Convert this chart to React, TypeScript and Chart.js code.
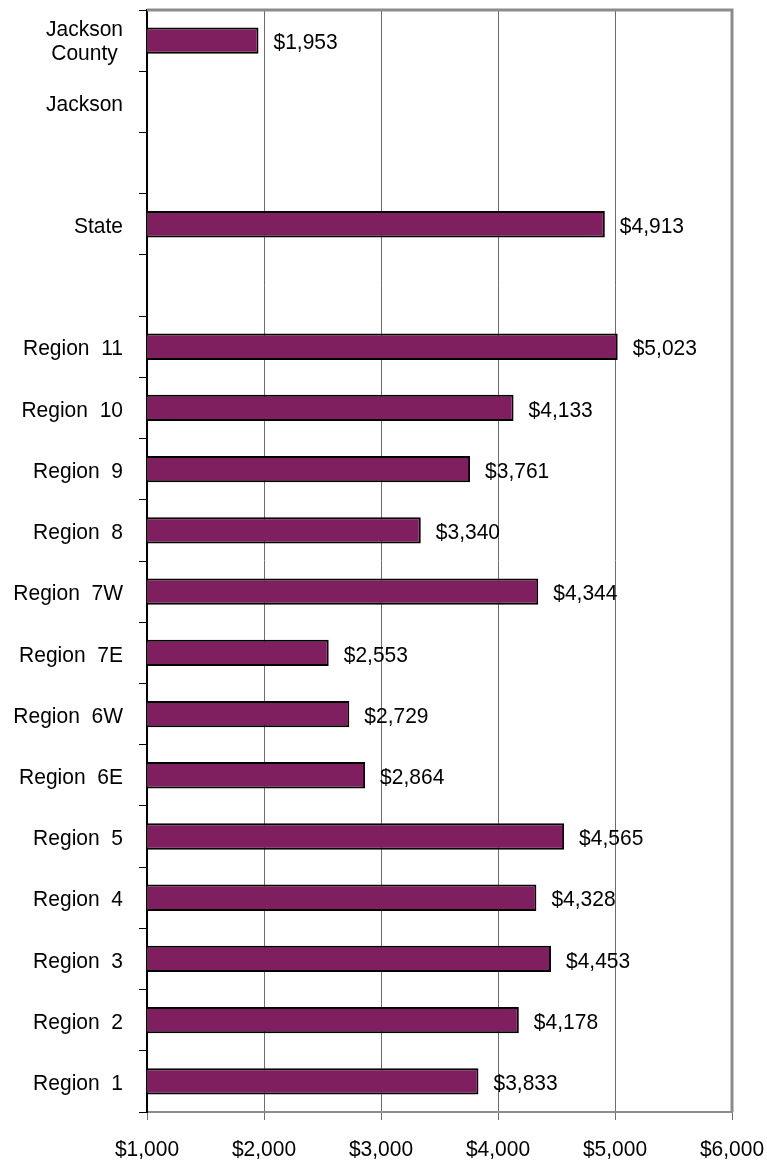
import React, { useEffect, useRef } from "react";
import { Chart, registerables } from "chart.js";

Chart.register(...registerables);

const categories: (string | string[])[] = [
  ["Jackson", "County"],
  "Jackson",
  "",
  "State",
  " ",
  "Region  11",
  "Region  10",
  "Region  9",
  "Region  8",
  "Region  7W",
  "Region  7E",
  "Region  6W",
  "Region  6E",
  "Region  5",
  "Region  4",
  "Region  3",
  "Region  2",
  "Region  1",
];

const values: (number | null)[] = [
  1953, null, null, 4913, null, 5023, 4133, 3761, 3340, 4344, 2553, 2729, 2864, 4565, 4328, 4453, 4178, 3833,
];

const xTicks = [1000, 2000, 3000, 4000, 5000, 6000];

const FONT = "'Liberation Sans', Arial, sans-serif";
const FONT_SIZE = 21;
const STRETCH = 1.08;

const fmt = (v: number) => "$" + v.toLocaleString("en-US");

function drawText(ctx: CanvasRenderingContext2D, text: string, x: number, centerY: number, align: CanvasTextAlign) {
  ctx.save();
  ctx.translate(x, centerY);
  ctx.scale(1, STRETCH);
  ctx.font = `${FONT_SIZE}px ${FONT}`;
  ctx.fillStyle = "#000";
  ctx.textAlign = align;
  ctx.textBaseline = "alphabetic";
  const capH = FONT_SIZE * 0.729;
  ctx.fillText(text, 0, capH / 2);
  ctx.restore();
}

export default function App() {
  const ref = useRef<HTMLCanvasElement | null>(null);

  useEffect(() => {
    if (!ref.current) return;
    const textPlugin = {
      id: "texts",
      afterDatasetsDraw(chart: any) {
        const ctx = chart.ctx as CanvasRenderingContext2D;
        const meta = chart.getDatasetMeta(0);
        const xs = chart.scales.x;
        const ys = chart.scales.y;
        // value labels
        meta.data.forEach((bar: any, i: number) => {
          const v = values[i];
          if (v == null) return;
          drawText(ctx, fmt(v), bar.x + 15, bar.y + 0.5, "left");
        });
        // category labels
        const rightEdge = ys.right - 24;
        categories.forEach((lab, i) => {
          const cy = ys.getPixelForValue(i);
          if (Array.isArray(lab)) {
            ctx.save();
            ctx.font = `${FONT_SIZE}px ${FONT}`;
            const w = Math.max(...lab.map((l) => ctx.measureText(l).width));
            ctx.restore();
            const cx = rightEdge - w / 2;
            const gap = 24.5;
            lab.forEach((l, j) => {
              drawText(ctx, l, cx, cy - 1 + (j - (lab.length - 1) / 2) * gap, "center");
            });
          } else if (lab.trim() !== "") {
            drawText(ctx, lab, rightEdge, cy + 0.5, "right");
          }
        });
        // x tick labels
        xTicks.forEach((t) => {
          drawText(ctx, fmt(t), xs.getPixelForValue(t), 1148, "center");
        });
      },
      afterDraw(chart: any) {
        const { ctx, chartArea } = chart;
        ctx.save();
        ctx.strokeStyle = "#8c8c8c";
        ctx.lineWidth = 3;
        ctx.beginPath();
        ctx.moveTo(chartArea.left, chartArea.top);
        ctx.lineTo(chartArea.right, chartArea.top);
        ctx.lineTo(chartArea.right, chartArea.bottom);
        ctx.stroke();
        ctx.restore();
      },
    };
    const chart = new Chart(ref.current, {
      type: "bar",
      data: {
        labels: categories,
        datasets: [
          {
            data: values,
            backgroundColor: "#7F1F5F",
            borderColor: "#000",
            borderWidth: 2,
            borderSkipped: false,
            categoryPercentage: 1,
            barPercentage: 0.43,
          },
        ],
      },
      options: {
        indexAxis: "y",
        animation: false,
        responsive: false,
        maintainAspectRatio: false,
        layout: { padding: { top: 10, right: 35, left: 0, bottom: 0 } },
        plugins: { legend: { display: false }, tooltip: { enabled: false } },
        scales: {
          x: {
            type: "linear",
            min: 1000,
            max: 6000,
            afterBuildTicks: (axis: any) => {
              axis.ticks = xTicks.map((v) => ({ value: v }));
            },
            afterFit: (axis: any) => {
              axis.height = 49;
              axis.paddingLeft = 0;
              axis.paddingRight = 0;
            },
            grid: {
              color: "#6e6e6e",
              lineWidth: 1,
              tickLength: 8,
              drawTicks: true,
            },
            border: { color: "#8c8c8c", width: 2 },
            ticks: { display: false },
          },
          y: {
            type: "category",
            afterFit: (axis: any) => {
              axis.width = 147;
              axis.paddingTop = 0;
              axis.paddingBottom = 0;
            },
            grid: {
              offset: true,
              drawOnChartArea: false,
              drawTicks: true,
              tickLength: 8,
              color: "#000",
              lineWidth: 1,
            },
            border: { color: "#000", width: 2 },
            ticks: { display: false, autoSkip: false },
          },
        },
      },
      plugins: [textPlugin],
    } as any);
    return () => chart.destroy();
  }, []);

  return (
    <div style={{ position: "fixed", left: 0, top: 0, width: 767, height: 1161, background: "#fff" }}>
      <canvas ref={ref} width={767} height={1161} style={{ width: 767, height: 1161, display: "block" }} />
    </div>
  );
}
